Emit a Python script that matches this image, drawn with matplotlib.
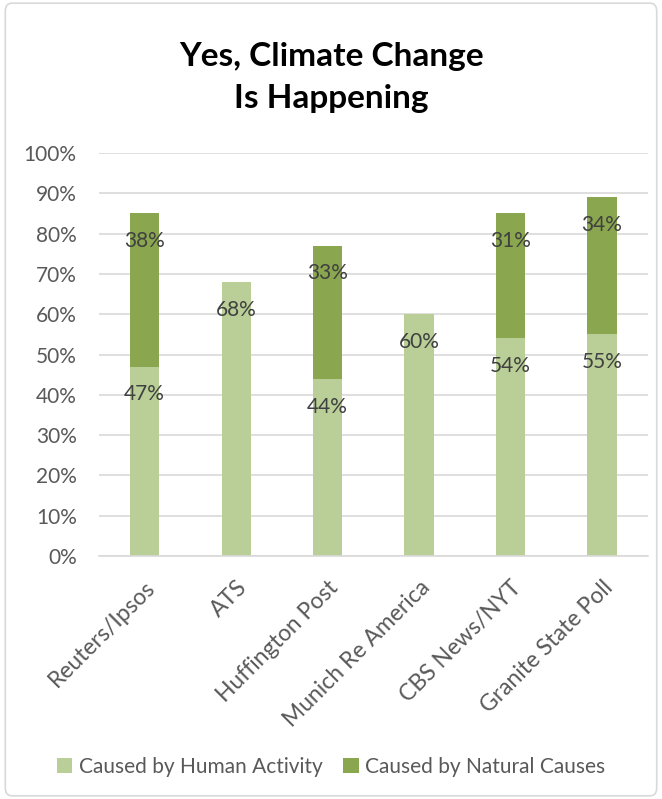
import numpy as np
import matplotlib
matplotlib.use('Agg')
import matplotlib.pyplot as plt
from matplotlib.patches import FancyBboxPatch
from matplotlib.ticker import FuncFormatter

plt.rcParams['font.family'] = ['Lato', 'DejaVu Sans']

# poll data (percent)
pollsters = ['Reuters/Ipsos', 'ATS', 'Huffington Post', 'Munich Re America',
             'CBS News/NYT', 'Granite State Poll']
human_activity = [47, 68, 44, 60, 54, 55]
natural_causes = [38, 0, 33, 0, 31, 34]

light_green = '#b9cf97'
dark_green = '#8aa64e'
text_grey = '#404040'

fig = plt.figure(figsize=(6.62, 7.99), dpi=100)
ax = fig.add_axes([0.1495, 0.304, 0.829, 0.5045])

# outer chart border
fig.patches.append(FancyBboxPatch((0.008, 0.004), 0.984, 0.992,
                                  boxstyle='round,pad=0,rounding_size=0.01',
                                  transform=fig.transFigure, fill=False,
                                  edgecolor='#d9d9d9', linewidth=1.2))

x = np.arange(len(pollsters))
width = 0.32
b1 = ax.bar(x, human_activity, width, color=light_green,
            label='Caused by Human Activity', zorder=2)
b2 = ax.bar(x, natural_causes, width, bottom=human_activity, color=dark_green,
            label='Caused by Natural Causes', zorder=2)

# data labels, just inside the top of each segment
for i in range(len(x)):
    top1 = human_activity[i]
    ax.annotate(f'{human_activity[i]}%', (x[i], top1), xytext=(0, -20),
                textcoords='offset points', ha='center', va='center',
                fontsize=15, color=text_grey, zorder=3)
    if natural_causes[i] > 0:
        top2 = human_activity[i] + natural_causes[i]
        ax.annotate(f'{natural_causes[i]}%', (x[i], top2), xytext=(0, -20),
                    textcoords='offset points', ha='center', va='center',
                    fontsize=15, color=text_grey, zorder=3)

ax.set_ylim(0, 100)
ax.set_xlim(-0.5, len(x) - 0.5)
ax.set_yticks(range(0, 101, 10))
ax.yaxis.set_major_formatter(FuncFormatter(lambda v, p: f'{int(v)}%'))
ax.yaxis.grid(True, color='#d9d9d9', linewidth=1.2, zorder=0)
ax.set_axisbelow(True)
for s in ['top', 'right', 'left']:
    ax.spines[s].set_visible(False)
ax.spines['bottom'].set_color('#d9d9d9')
ax.spines['bottom'].set_linewidth(1.2)
ax.tick_params(axis='both', length=0, labelsize=15, colors='#595959')
ax.tick_params(axis='y', pad=16)
ax.tick_params(axis='x', pad=15, labelsize=16.5)
ax.set_xticks(x)
ax.set_xticklabels(pollsters, rotation=45, ha='right', rotation_mode='anchor')

fig.text(0.5, 0.903, 'Yes, Climate Change\nIs Happening', ha='center', va='center',
         fontsize=24, fontweight='bold', color='black', linespacing=1.55)

fig.legend(handles=[b1, b2], loc='center', bbox_to_anchor=(0.5, 0.04), ncol=2,
           frameon=False, fontsize=15, handlelength=0.75, handleheight=0.75,
           handletextpad=0.3, columnspacing=1.0, labelcolor='#595959')

fig.savefig('out.png', dpi=100)
